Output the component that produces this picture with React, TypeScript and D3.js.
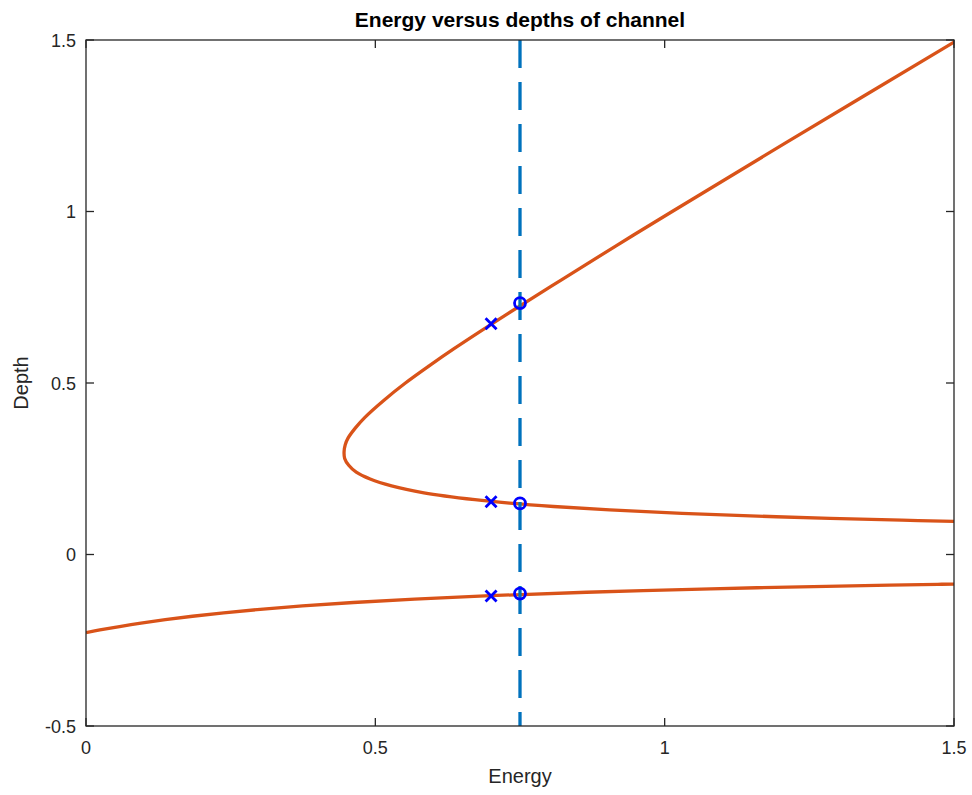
import React from "react";
import * as d3 from "d3";

// upper (positive depth) branch
const upperEnergy = [1.5, 1.41, 1.193, 1.03, 0.905, 0.808, 0.732, 0.672, 0.584, 0.528, 0.491, 0.467, 0.454, 0.447, 0.446, 0.448, 0.453, 0.466, 0.482, 0.515, 0.552, 0.593, 0.636, 0.727, 0.821, 0.916, 1.013, 1.209, 1.506];
const upperDepth = [0.0966, 0.1, 0.11, 0.12, 0.13, 0.14, 0.15, 0.16, 0.18, 0.2, 0.22, 0.24, 0.26, 0.28, 0.3, 0.32, 0.34, 0.37, 0.4, 0.45, 0.5, 0.55, 0.6, 0.7, 0.8, 0.9, 1.0, 1.2, 1.5];

// lower (negative depth) branch
const lowerEnergy = [0, 0.024, 0.058, 0.095, 0.137, 0.184, 0.238, 0.301, 0.374, 0.462, 0.568, 0.699, 0.865, 1.08, 1.213, 1.367, 1.472, 1.5];
const lowerDepth = [-0.2277, -0.22, -0.21, -0.2, -0.19, -0.18, -0.17, -0.16, -0.15, -0.14, -0.13, -0.12, -0.11, -0.1, -0.095, -0.09, -0.087, -0.0862];

// markers
const circleEnergy = 0.75;
const circleDepths = [0.733, 0.149, -0.114];
const crossEnergy = 0.7;
const crossDepths = [0.673, 0.154, -0.121];

const xTicks = [0, 0.5, 1, 1.5];
const yTicks = [-0.5, 0, 0.5, 1, 1.5];

const W = 972;
const H = 795;
const m = { left: 86, right: 18, top: 40, bottom: 69 };

export default function App() {
  const x = d3.scaleLinear().domain([0, 1.5]).range([m.left, W - m.right]);
  const y = d3.scaleLinear().domain([-0.5, 1.5]).range([H - m.bottom, m.top]);

  const line = d3
    .line<[number, number]>()
    .x((d) => x(d[0]))
    .y((d) => y(d[1]))
    .curve(d3.curveCatmullRom.alpha(0.5));

  const upper = upperEnergy.map((e, i) => [e, upperDepth[i]] as [number, number]);
  const lower = lowerEnergy.map((e, i) => [e, lowerDepth[i]] as [number, number]);

  const axisColor = "#262626";
  const font = "'Liberation Sans', Arial, Helvetica, sans-serif";
  const tickLen = 8;
  const x0 = x(0), x1 = x(1.5), y0 = y(-0.5), y1 = y(1.5);

  return (
    <svg width={W} height={H} style={{ position: "absolute", left: 0, top: 0, background: "#fff" }}>
      <defs>
        <clipPath id="plot">
          <rect x={x0} y={y1} width={x1 - x0} height={y0 - y1} />
        </clipPath>
      </defs>
      <rect x={x0} y={y1} width={x1 - x0} height={y0 - y1} fill="#fff" />

      <g clipPath="url(#plot)">
        <path d={line(lower) || ""} fill="none" stroke="#D95319" strokeWidth={3.3} />
        <path d={line(upper) || ""} fill="none" stroke="#D95319" strokeWidth={3.3} />
        <line
          x1={x(circleEnergy)}
          x2={x(circleEnergy)}
          y1={y1}
          y2={y0}
          stroke="#0072BD"
          strokeWidth={3.3}
          strokeDasharray="28,14"
        />
        {circleDepths.map((d, i) => (
          <circle key={"c" + i} cx={x(circleEnergy)} cy={y(d)} r={5.5} fill="none" stroke="#0000FF" strokeWidth={2.8} />
        ))}
        {crossDepths.map((d, i) => {
          const cx = x(crossEnergy), cy = y(d), s = 5.5;
          return (
            <path
              key={"x" + i}
              d={`M${cx - s},${cy - s}L${cx + s},${cy + s}M${cx - s},${cy + s}L${cx + s},${cy - s}`}
              stroke="#0000FF"
              strokeWidth={2.8}
            />
          );
        })}
      </g>

      {/* axes box */}
      <rect x={x0} y={y1} width={x1 - x0} height={y0 - y1} fill="none" stroke={axisColor} strokeWidth={1.3} />
      {xTicks.map((t) => (
        <g key={"xt" + t}>
          <line x1={x(t)} x2={x(t)} y1={y0} y2={y0 - tickLen} stroke={axisColor} strokeWidth={1.3} />
          <line x1={x(t)} x2={x(t)} y1={y1} y2={y1 + tickLen} stroke={axisColor} strokeWidth={1.3} />
          <text x={x(t)} y={y0 + 28} textAnchor="middle" fontFamily={font} fontSize={18} fill={axisColor}>
            {t}
          </text>
        </g>
      ))}
      {yTicks.map((t) => (
        <g key={"yt" + t}>
          <line x1={x0} x2={x0 + tickLen} y1={y(t)} y2={y(t)} stroke={axisColor} strokeWidth={1.3} />
          <line x1={x1} x2={x1 - tickLen} y1={y(t)} y2={y(t)} stroke={axisColor} strokeWidth={1.3} />
          <text x={x0 - 10} y={y(t) + 6.5} textAnchor="end" fontFamily={font} fontSize={18} fill={axisColor}>
            {t}
          </text>
        </g>
      ))}

      <text x={(x0 + x1) / 2} y={27} textAnchor="middle" fontFamily={font} fontSize={21} fontWeight="bold" fill="#000">
        Energy versus depths of channel
      </text>
      <text x={(x0 + x1) / 2} y={783} textAnchor="middle" fontFamily={font} fontSize={20} fill={axisColor}>
        Energy
      </text>
      <text
        transform={`translate(28, ${(y0 + y1) / 2}) rotate(-90)`}
        textAnchor="middle"
        fontFamily={font}
        fontSize={20}
        fill={axisColor}
      >
        Depth
      </text>
    </svg>
  );
}
